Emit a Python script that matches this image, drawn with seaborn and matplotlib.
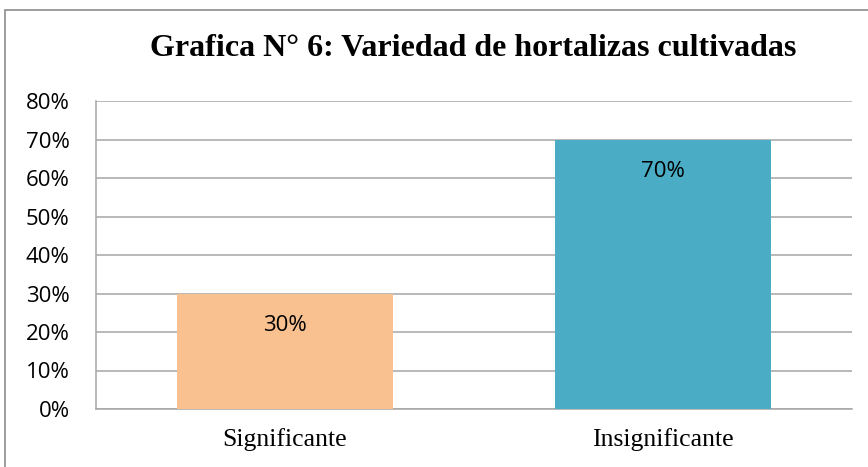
import matplotlib
matplotlib.use("Agg")
import matplotlib.pyplot as plt
import seaborn as sns
import pandas as pd
from matplotlib.patches import Rectangle

categories = ["Significante", "Insignificante"]
values = [30, 70]
colors = ["#F9C18F", "#4BACC6"]
y_ticks = [0, 10, 20, 30, 40, 50, 60, 70, 80]
y_tick_labels = [f"{v}%" for v in y_ticks]
title = "Grafica N° 6: Variedad de hortalizas cultivadas"

sns.set_theme(style="white")
df = pd.DataFrame({"cat": categories, "val": values})

fig = plt.figure(figsize=(8.68, 4.67), dpi=100)
ax = fig.add_axes([96/868, 58/467, 756/868, 308/467])

sns.barplot(data=df, x="cat", y="val", hue="cat", palette=colors, width=0.57,
            legend=False, ax=ax, saturation=1, zorder=3, linewidth=0, edgecolor="none")

ax.set_ylim(0, 80)
ax.set_yticks(y_ticks)
ax.set_yticklabels(y_tick_labels, fontfamily="Open Sans", fontsize=16, color="black")
ax.yaxis.grid(True, color="#A6A6A6", linewidth=1.1, zorder=0)
ax.set_axisbelow(True)
ax.set_xlabel("")
ax.set_ylabel("")
ax.set_xticks(range(len(categories)))
ax.set_xticklabels(categories, fontfamily="Liberation Serif", fontsize=18.5, color="black")
ax.tick_params(axis="x", pad=14, length=0)
ax.tick_params(axis="y", pad=19, length=0)
for s in ["top", "right"]:
    ax.spines[s].set_visible(False)
for s in ["left", "bottom"]:
    ax.spines[s].set_color("#A6A6A6")
    ax.spines[s].set_linewidth(1.1)

for i, v in enumerate(values):
    ax.text(i, v - 8.3, f"{v}%", ha="center", va="center", fontfamily="Open Sans",
            fontsize=16, color="black", zorder=5)

fig.text(473/868, 1 - 49/467, title, ha="center", va="center",
         fontfamily="Liberation Serif", fontweight="bold", fontsize=23, color="black")

fig.patches.append(Rectangle((5/868, -0.1), 2, 1 - 10/467 + 0.1, transform=fig.transFigure,
                             fill=False, edgecolor="#8C8C8C", linewidth=1.2))

fig.savefig("out.png", dpi=100)
